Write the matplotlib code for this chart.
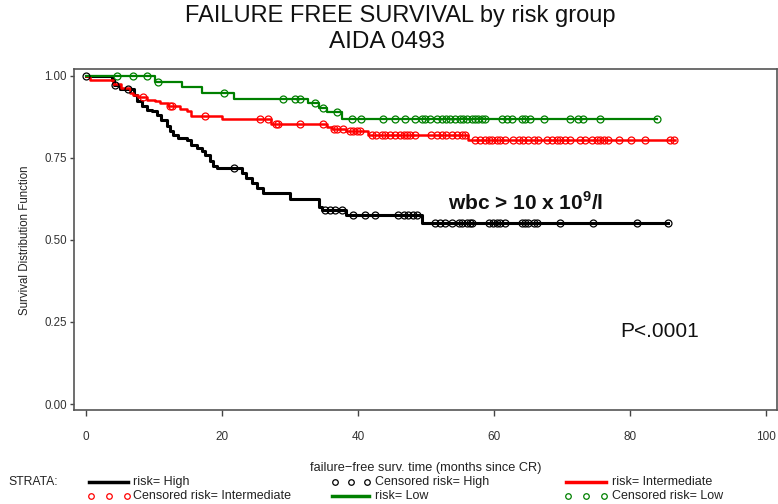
import numpy as np
import matplotlib
matplotlib.use("Agg")
import matplotlib.pyplot as plt
from matplotlib.lines import Line2D

plt.rcParams['font.family'] = ['Liberation Sans', 'DejaVu Sans']
plt.rcParams['mathtext.fontset'] = 'custom'
plt.rcParams['mathtext.rm'] = 'Liberation Sans'
plt.rcParams['mathtext.bf'] = 'Liberation Sans:bold'

# ---- Kaplan-Meier estimates: event times (months) and survival after each step ----
high_times = [0, 3.8, 4.1, 5.0, 7.0, 7.5, 8.2, 8.9, 9.7, 10.4, 11.1, 11.9, 12.4, 12.8,
              13.6, 14.8, 15.5, 16.3, 17.0, 17.5, 18.2, 18.7, 19.2, 22.9, 23.6, 24.4,
              25.1, 26.1, 30.0, 34.2, 34.7, 38.3, 49.4]
high_surv = [1.0, 0.988, 0.973, 0.958, 0.940, 0.922, 0.907, 0.897, 0.892, 0.881, 0.866,
             0.846, 0.831, 0.820, 0.810, 0.805, 0.790, 0.780, 0.770, 0.758, 0.739, 0.724,
             0.718, 0.703, 0.687, 0.672, 0.657, 0.642, 0.624, 0.601, 0.591, 0.576, 0.552]
high_end = 85.6
high_censor = [0, 4.3, 6.2, 21.7, 35.1, 35.9, 36.6, 37.6, 39.3, 41.0, 42.5, 45.9, 46.7,
               47.4, 48.1, 48.6, 51.3, 52.1, 52.8, 53.8, 54.8, 55.3, 56.0, 56.5, 56.7,
               59.2, 59.9, 60.4, 60.9, 61.6, 64.1, 64.6, 65.0, 65.8, 66.3, 69.7, 74.6,
               81.0, 85.6]

inter_times = [0, 0.6, 4.0, 5.2, 6.5, 6.9, 7.7, 8.9, 10.1, 10.9, 12.1, 13.8, 14.8, 15.5,
               20.0, 27.2, 35.4, 36.1, 38.3, 41.5, 56.2]
inter_surv = [1.0, 0.987, 0.975, 0.962, 0.947, 0.942, 0.934, 0.925, 0.922, 0.917, 0.907,
              0.899, 0.892, 0.876, 0.869, 0.853, 0.845, 0.838, 0.832, 0.818, 0.805]
inter_end = 86.6
inter_censor = [8.4, 12.4, 12.7, 17.5, 25.6, 26.8, 28.0, 28.3, 31.5, 34.9, 36.4, 36.9,
                37.8, 38.8, 39.3, 39.8, 40.3, 42.0, 42.7, 43.5, 44.0, 44.7, 45.4, 46.2,
                46.7, 47.2, 47.6, 48.4, 50.8, 51.6, 52.3, 53.0, 53.8, 54.5, 55.3, 55.7,
                57.2, 57.9, 58.7, 59.2, 59.7, 60.4, 60.9, 61.6, 62.8, 63.6, 64.3, 65.0,
                65.8, 66.5, 67.8, 68.5, 69.2, 69.7, 70.4, 71.2, 72.6, 73.4, 74.4, 75.1,
                75.6, 76.1, 76.8, 78.3, 80.2, 82.2, 85.9, 86.4]

low_times = [0, 10.1, 14.1, 17.0, 21.8, 32.6, 34.2, 35.5, 37.6]
low_surv = [1.0, 0.982, 0.965, 0.946, 0.928, 0.916, 0.901, 0.890, 0.868]
low_end = 83.9
low_censor = [4.5, 6.9, 8.9, 10.6, 20.3, 29.0, 30.7, 31.5, 33.7, 34.9, 36.9, 39.1, 40.5,
              43.7, 45.4, 46.9, 48.4, 49.4, 49.9, 50.6, 51.6, 52.3, 53.0, 53.5, 54.3,
              55.0, 55.5, 56.0, 56.7, 57.2, 57.7, 58.2, 58.7, 61.1, 61.9, 62.6, 64.1,
              64.6, 65.3, 67.3, 71.2, 72.4, 73.1, 75.6, 83.9]

x_ticks = [0, 20, 40, 60, 80, 100]
y_ticks = [0.00, 0.25, 0.50, 0.75, 1.00]

groups = [
    (high_times, high_surv, high_end, high_censor, "black", 2.2),
    (inter_times, inter_surv, inter_end, inter_censor, "#ff0000", 1.8),
    (low_times, low_surv, low_end, low_censor, "#008000", 1.6),
]

W, H = 778, 504
fig = plt.figure(figsize=(W / 100, H / 100), dpi=100)
fig.patch.set_facecolor("white")
ax = fig.add_axes([74 / W, 1 - 410 / H, (777 - 74) / W, (410 - 69) / H])


def surv_at(times, surv, t):
    idx = np.searchsorted(np.asarray(times), np.asarray(t), side="right") - 1
    return np.asarray(surv)[np.clip(idx, 0, None)]


for times, surv, end, cens, color, lw in groups:
    xs = list(times) + [end]
    ys = list(surv) + [surv[-1]]
    ax.step(xs, ys, where="post", color=color, lw=lw, zorder=3)
    ax.plot(cens, surv_at(times, surv, cens), ls="none", marker="o", ms=5,
            mfc="none", mec=color, mew=0.9, zorder=4)

ax.set_xlim(-1.76, 101.6)
ax.set_ylim(-0.018, 1.0204)
ax.set_xticks(x_ticks)
ax.set_xticklabels([str(v) for v in x_ticks])
ax.set_yticks(y_ticks)
ax.set_yticklabels([f"{v:.2f}" for v in y_ticks])
ax.tick_params(axis="x", direction="out", length=4, width=1, pad=11,
               colors="#444444", labelsize=8.5, labelcolor="#333333")
ax.tick_params(axis="y", direction="out", length=3, width=1, pad=2,
               colors="#444444", labelsize=8.3, labelcolor="#333333")
for s in ax.spines.values():
    s.set_color("#555555")
    s.set_linewidth(1.2)

ax.set_xlabel("failure\u2212free surv. time (months since CR)", fontsize=9.2,
              color="#222222", labelpad=14)
fig.text(25 / W, 1 - 240 / H, "Survival Distribution Function", rotation=90,
         ha="center", va="center", fontsize=8.3, color="#222222")

fig.text(400 / W, 1 - 16 / H, "FAILURE FREE SURVIVAL by risk group", ha="center",
         va="center", fontsize=17, color="#111111")
fig.text(387 / W, 1 - 42 / H, "AIDA 0493", ha="center", va="center", fontsize=17.5,
         color="#111111")

ax.text(53.2, 0.615, r"wbc > 10 x 10$^{\mathbf{9}}$/l", fontsize=15, fontweight="bold",
        ha="left", va="center", color="#111111")
ax.text(84.3, 0.222, "P<.0001", fontsize=15, ha="center", va="center",
        color="#111111")

# ---- legend strip ----
def fx(px):
    return px / W


def fy(py):
    return 1 - py / H


row1, row2 = 482, 496
fig.text(fx(8), fy(row1), "STRATA:", fontsize=8.8, va="center", color="#222222")


def leg_line(x0, x1, y, color, lw):
    fig.add_artist(Line2D([fx(x0), fx(x1)], [fy(y), fy(y)], color=color, lw=lw,
                          transform=fig.transFigure))


def leg_circles(xs, y, color):
    fig.add_artist(Line2D([fx(v) for v in xs], [fy(y)] * len(xs), ls="none",
                          marker="o", ms=4, mfc="none", mec=color, mew=0.9,
                          transform=fig.transFigure))


def leg_text(x, y, s):
    fig.text(fx(x), fy(y), s, fontsize=9, va="center", color="#222222")


leg_line(89, 128, row1, "black", 2.5)
leg_text(133, row1, "risk= High")
leg_circles([335, 351, 367], row1, "black")
leg_text(375, row1, "Censored risk= High")
leg_line(566, 606, row1, "#ff0000", 2.5)
leg_text(612, row1, "risk= Intermediate")

leg_circles([91, 109, 127], row2, "#ff0000")
leg_text(133, row2, "Censored risk= Intermediate")
leg_line(332, 369, row2, "#008000", 2.5)
leg_text(375, row2, "risk= Low")
leg_circles([568, 586, 604], row2, "#008000")
leg_text(612, row2, "Censored risk= Low")

fig.savefig("out.png", dpi=100)
